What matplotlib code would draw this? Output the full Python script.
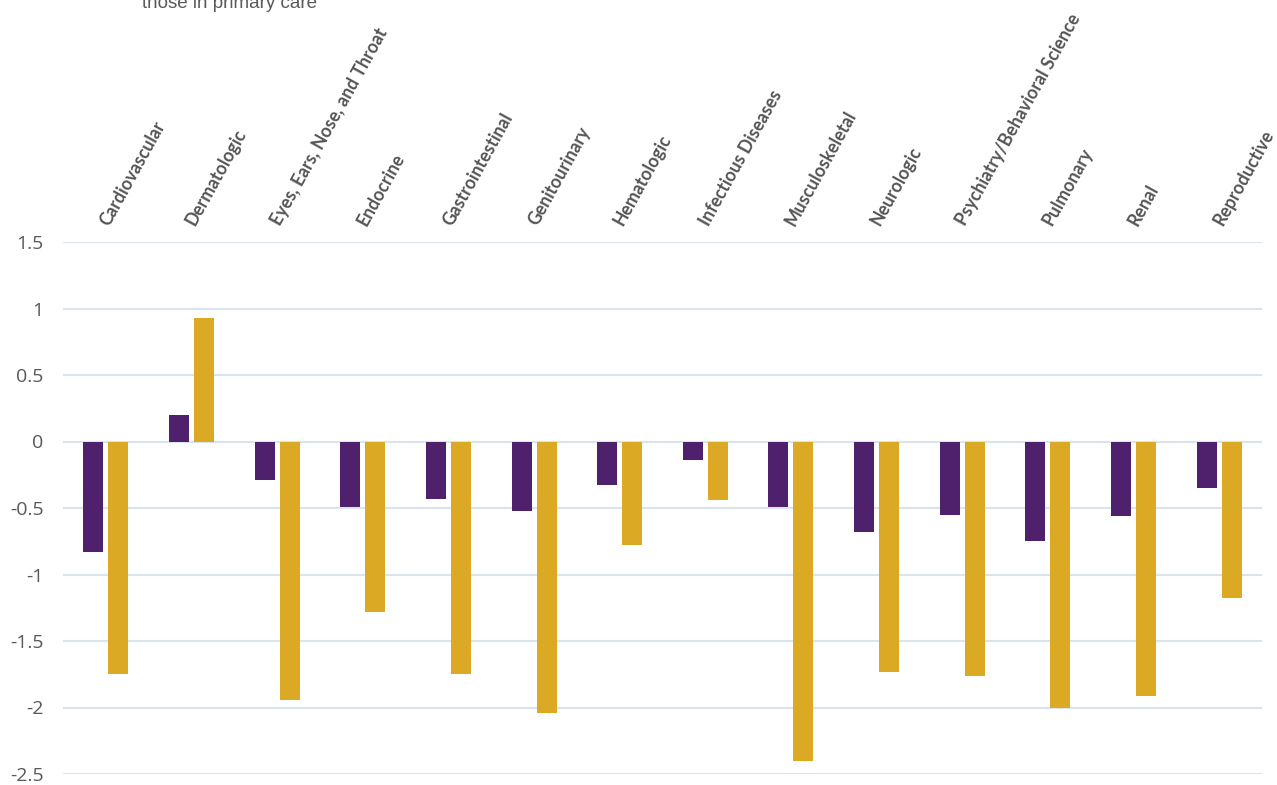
import matplotlib
matplotlib.use("Agg")
import matplotlib.pyplot as plt
import matplotlib.transforms as mtransforms
import numpy as np

categories = ["Cardiovascular", "Dermatologic", "Eyes, Ears, Nose, and Throat",
              "Endocrine", "Gastrointestinal", "Genitourinary", "Hematologic",
              "Infectious Diseases", "Musculoskeletal", "Neurologic",
              "Psychiatry/Behavioral Science", "Pulmonary", "Renal", "Reproductive"]
series_purple = [-0.83, 0.20, -0.29, -0.49, -0.43, -0.52, -0.33,
                 -0.14, -0.49, -0.68, -0.55, -0.75, -0.56, -0.35]
series_gold = [-1.75, 0.93, -1.94, -1.28, -1.75, -2.04, -0.78,
               -0.44, -2.40, -1.73, -1.76, -2.00, -1.91, -1.18]
yticks = [-2.5, -2, -1.5, -1, -0.5, 0, 0.5, 1, 1.5]
ytick_labels = ["-2.5", "-2", "-1.5", "-1", "-0.5", "0", "0.5", "1", "1.5"]
caption = "those in primary care"

PURPLE = "#4F206B"
GOLD = "#DBA924"
GRID = "#D8E4EE"
TEXT = "#595959"

fig = plt.figure(figsize=(12.77, 7.85), dpi=100)
ax = fig.add_axes([63/1277, 11/785, (1262-63)/1277, (774-242)/785])

x = np.arange(len(categories))
w = 0.234
off = 0.146
ax.bar(x - off, series_purple, width=w, color=PURPLE, zorder=3)
ax.bar(x + off, series_gold, width=w, color=GOLD, zorder=3)

ax.set_xlim(-0.5, len(categories) - 0.5)
ax.set_ylim(-2.5, 1.5)
ax.set_yticks(yticks)
ax.set_yticklabels(ytick_labels, fontsize=14, color=TEXT, family=["Open Sans", "DejaVu Sans"])
ax.yaxis.grid(True, color=GRID, linewidth=1.5, zorder=0)
ax.tick_params(axis="y", length=0, pad=14)
for s in ax.spines.values():
    s.set_visible(False)

ax.xaxis.tick_top()
ax.set_xticks(x)
ax.set_xticklabels(categories, rotation=61, ha="left", va="bottom",
                   rotation_mode="anchor", fontsize=12.7, color="#555555",
                   fontweight="bold", family=["Lato", "DejaVu Sans"])
ax.tick_params(axis="x", length=0, pad=10)
shift = mtransforms.ScaledTranslation(4.5/72, 0, fig.dpi_scale_trans)
for lab in ax.get_xticklabels():
    lab.set_transform(lab.get_transform() + shift)

fig.text(142/1277, 1 - 8/785, caption, fontsize=13.5, color=TEXT,
         family=["Liberation Sans", "DejaVu Sans"], va="baseline", ha="left")

fig.savefig("out.png", dpi=100, facecolor="white")
